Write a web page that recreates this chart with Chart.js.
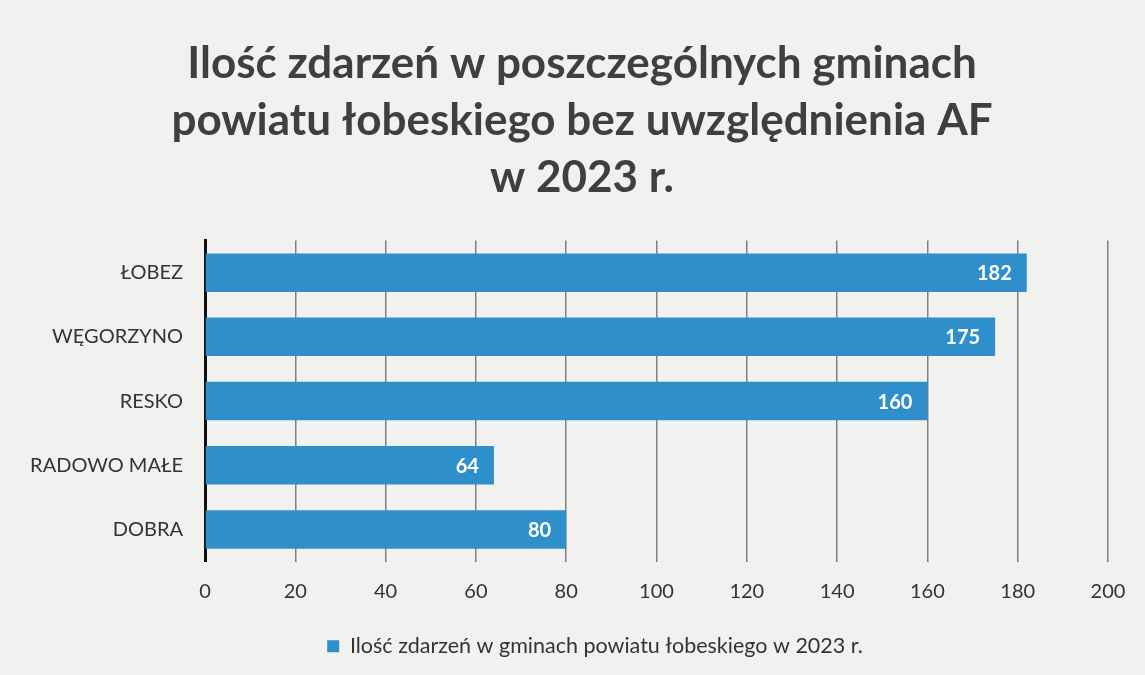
<!DOCTYPE html>
<html>
<head>
<meta charset="utf-8">
<script src="https://cdn.jsdelivr.net/npm/chart.js@4.4.1/dist/chart.umd.min.js"></script>
<style>
    html, body { margin: 0; padding: 0; background: #f1f1ef; }
    #wrap { width: 1145px; height: 675px; }
</style>
</head>
<body>
<div id="wrap"><canvas id="chart_1" width="1145" height="675"></canvas></div>
<script>
var gminy = ["ŁOBEZ", "WĘGORZYNO", "RESKO", "RADOWO MAŁE", "DOBRA"];
var zdarzenia = [182, 175, 160, 64, 80];
var seriesName = "Ilość zdarzeń w gminach powiatu łobeskiego w 2023 r.";
var titleLines = ["Ilość zdarzeń w poszczególnych gminach", "powiatu łobeskiego bez uwzględnienia AF", "w 2023 r."];

// white value labels at the end of each bar
var valueLabels = {
    id: "valueLabels",
    afterLayout: function (chart) {
        // title and legend sit right of the canvas centre in the original
        if (chart.titleBlock) chart.titleBlock.left += 46;
        if (chart.legend) chart.legend.left += 72;
    },
    afterDatasetsDraw: function (chart) {
        var ctx = chart.ctx;
        var meta = chart.getDatasetMeta(0);
        ctx.save();
        ctx.font = "bold 20px Lato";
        ctx.fillStyle = "#ffffff";
        ctx.textAlign = "right";
        ctx.textBaseline = "middle";
        meta.data.forEach(function (bar, i) {
            ctx.fillText(chart.data.datasets[0].data[i], bar.x - 15, bar.y + 1);
        });
        ctx.restore();
    }
};

var ctx1 = document.getElementById("chart_1").getContext("2d");
var chart1 = new Chart(ctx1, {
    type: "bar",
    data: {
        labels: gminy,
        datasets: [{
            label: seriesName,
            data: zdarzenia,
            backgroundColor: "#2f8fca",
            barPercentage: 0.6,
            categoryPercentage: 1.0
        }]
    },
    options: {
        indexAxis: "y",
        responsive: false,
        animation: false,
        layout: { padding: { left: 10, right: 37, top: 35, bottom: 8 } },
        scales: {
            x: {
                min: 0,
                max: 200,
                ticks: { stepSize: 20, color: "#333333", font: { family: "Lato", size: 20 }, padding: 18 },
                grid: { color: "#808080", lineWidth: 1.5, drawTicks: true, tickLength: 0 },
                border: { display: false },
                afterFit: function (scale) { scale.height = 54; }
            },
            y: {
                ticks: { color: "#333333", font: { family: "Lato", size: 20 }, padding: 14 },
                grid: { display: false },
                border: { color: "#111111", width: 3 },
                afterFit: function (scale) { scale.width = 195; }
            }
        },
        plugins: {
            title: {
                display: true,
                text: titleLines,
                color: "#3f3f3f",
                font: { family: "Lato", size: 44, weight: "bold", lineHeight: 1.3 },
                padding: { top: 0, bottom: 34 }
            },
            legend: {
                position: "bottom",
                labels: {
                    color: "#333333",
                    font: { family: "Lato", size: 21.5 },
                    boxWidth: 12,
                    boxHeight: 12,
                    padding: 20
                }
            },
            tooltip: { enabled: false }
        }
    },
    plugins: [valueLabels]
});
</script>
</body>
</html>
